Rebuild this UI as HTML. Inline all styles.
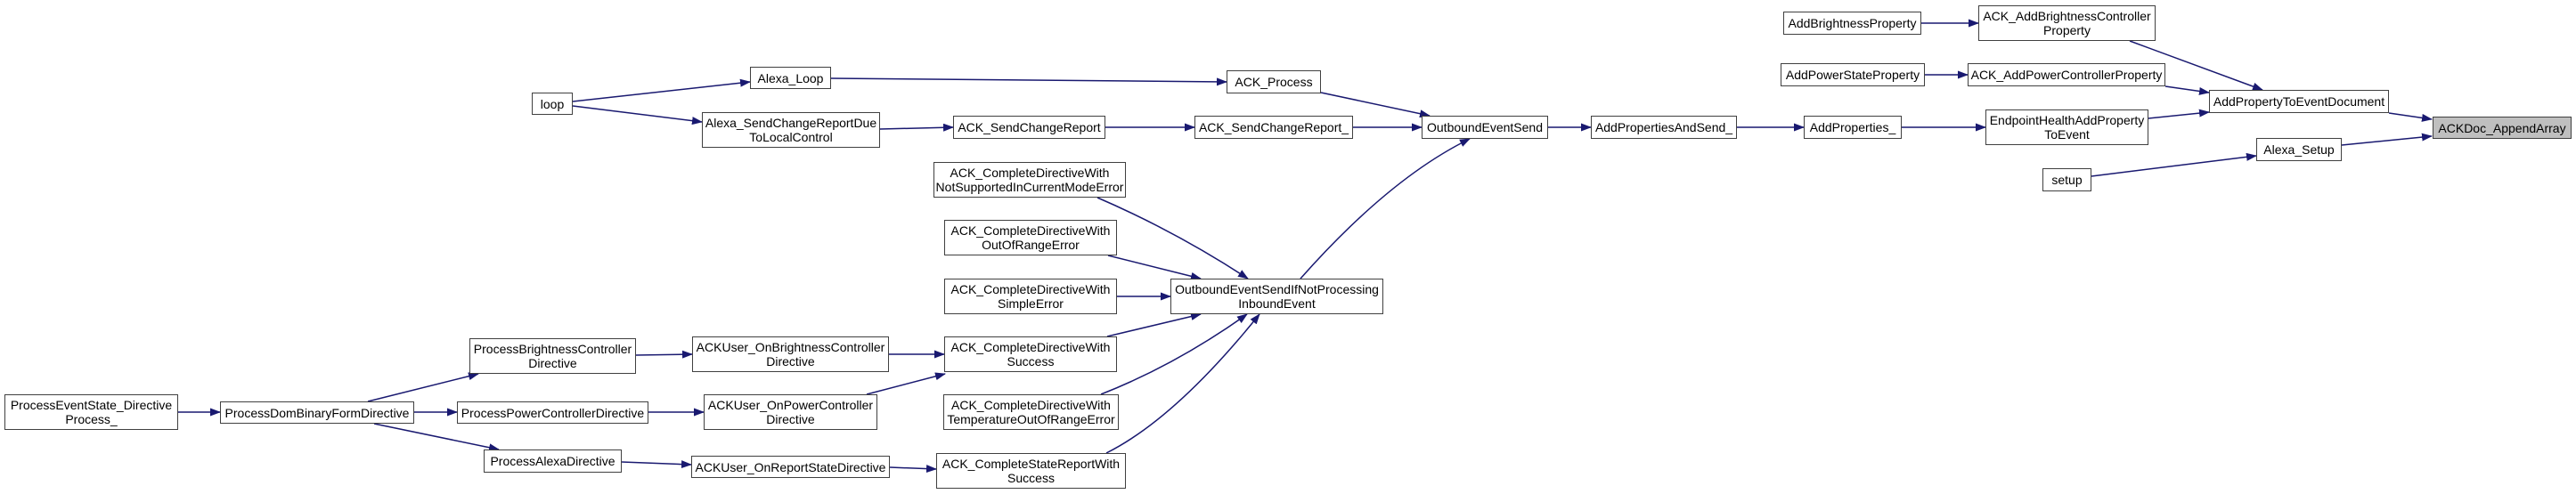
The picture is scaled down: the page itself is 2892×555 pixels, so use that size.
<!DOCTYPE html>
<html><head><meta charset="utf-8"><style>
body{margin:0;background:#fff;width:2892px;height:555px;position:relative;overflow:hidden;font-family:"Liberation Sans",Arial,sans-serif;}
.n{position:absolute;box-sizing:border-box;border:1.5px solid #404040;background:#fff;display:flex;align-items:center;justify-content:center;text-align:center;font-size:14px;line-height:16px;color:#000;white-space:nowrap;}
.g{background:#bfbfbf;}
svg{position:absolute;left:0;top:0;}
</style></head><body>
<svg width="2892" height="555" viewBox="0 0 2892 555">
<defs><marker id="a" markerWidth="12" markerHeight="9" refX="11" refY="4.5" orient="auto" markerUnits="userSpaceOnUse"><path d="M0,0 L12,4.5 L0,9 z" fill="#191970"/></marker></defs>
<g stroke="#191970" stroke-width="1.5" fill="none" marker-end="url(#a)">
<path d="M643,114 L842,92"/>
<path d="M643,119 L788,137"/>
<path d="M933,88 L1377,92"/>
<path d="M988,145 L1070,143"/>
<path d="M1241,143 L1341,143"/>
<path d="M1519,143 L1596,143"/>
<path d="M1483,104 L1605,130"/>
<path d="M1460,313 Q1560,200 1650,156"/>
<path d="M1738,143 L1786,143"/>
<path d="M1950,143 L2025,143"/>
<path d="M2135,143 L2229,143"/>
<path d="M2412,133 L2480,126"/>
<path d="M2157,26 L2221,26"/>
<path d="M2391,46 L2540,101"/>
<path d="M2161,84 L2209,84"/>
<path d="M2431,97 L2480,104"/>
<path d="M2682,127 L2730,134"/>
<path d="M2629,163 L2730,153"/>
<path d="M2348,198 L2533,175"/>
<path d="M1232,222 Q1320,260 1401,313"/>
<path d="M1244,287 L1348,313"/>
<path d="M1254,333 L1314,333"/>
<path d="M1243,378 L1348,353"/>
<path d="M1236,443 Q1320,410 1400,353"/>
<path d="M1242,509 Q1320,470 1414,353"/>
<path d="M998,398 L1060,398"/>
<path d="M973,443 L1061,420"/>
<path d="M999,525 L1051,527"/>
<path d="M200,463 L247,463"/>
<path d="M413,451 L537,420"/>
<path d="M465,463 L513,463"/>
<path d="M420,476 L560,505"/>
<path d="M714,399 L777,398"/>
<path d="M728,463 L790,463"/>
<path d="M698,519 L776,522"/>
</g></svg>
<div class="n" style="left:597px;top:104px;width:46px;height:25px">loop</div>
<div class="n" style="left:842px;top:75px;width:91px;height:25px">Alexa_Loop</div>
<div class="n" style="left:788px;top:126px;width:200px;height:40px">Alexa_SendChangeReportDue<br>ToLocalControl</div>
<div class="n" style="left:1377px;top:79px;width:106px;height:26px">ACK_Process</div>
<div class="n" style="left:1070px;top:130px;width:171px;height:26px">ACK_SendChangeReport</div>
<div class="n" style="left:1341px;top:130px;width:178px;height:26px">ACK_SendChangeReport_</div>
<div class="n" style="left:1596px;top:130px;width:142px;height:26px">OutboundEventSend</div>
<div class="n" style="left:1786px;top:130px;width:164px;height:26px">AddPropertiesAndSend_</div>
<div class="n" style="left:2025px;top:130px;width:110px;height:26px">AddProperties_</div>
<div class="n" style="left:2229px;top:123px;width:183px;height:40px">EndpointHealthAddProperty<br>ToEvent</div>
<div class="n" style="left:2002px;top:13px;width:155px;height:26px">AddBrightnessProperty</div>
<div class="n" style="left:2221px;top:6px;width:199px;height:40px">ACK_AddBrightnessController<br>Property</div>
<div class="n" style="left:1999px;top:71px;width:162px;height:26px">AddPowerStateProperty</div>
<div class="n" style="left:2209px;top:71px;width:222px;height:26px">ACK_AddPowerControllerProperty</div>
<div class="n" style="left:2480px;top:101px;width:202px;height:26px">AddPropertyToEventDocument</div>
<div class="n g" style="left:2731px;top:131px;width:156px;height:25px">ACKDoc_AppendArray</div>
<div class="n" style="left:2533px;top:155px;width:96px;height:26px">Alexa_Setup</div>
<div class="n" style="left:2293px;top:189px;width:55px;height:26px">setup</div>
<div class="n" style="left:1048px;top:182px;width:216px;height:40px">ACK_CompleteDirectiveWith<br>NotSupportedInCurrentModeError</div>
<div class="n" style="left:1060px;top:247px;width:194px;height:40px">ACK_CompleteDirectiveWith<br>OutOfRangeError</div>
<div class="n" style="left:1060px;top:313px;width:194px;height:40px">ACK_CompleteDirectiveWith<br>SimpleError</div>
<div class="n" style="left:1060px;top:378px;width:194px;height:40px">ACK_CompleteDirectiveWith<br>Success</div>
<div class="n" style="left:1059px;top:443px;width:197px;height:40px">ACK_CompleteDirectiveWith<br>TemperatureOutOfRangeError</div>
<div class="n" style="left:1051px;top:509px;width:213px;height:40px">ACK_CompleteStateReportWith<br>Success</div>
<div class="n" style="left:1314px;top:313px;width:239px;height:40px">OutboundEventSendIfNotProcessing<br>InboundEvent</div>
<div class="n" style="left:5px;top:443px;width:195px;height:40px">ProcessEventState_Directive<br>Process_</div>
<div class="n" style="left:247px;top:451px;width:218px;height:25px">ProcessDomBinaryFormDirective</div>
<div class="n" style="left:527px;top:380px;width:187px;height:40px">ProcessBrightnessController<br>Directive</div>
<div class="n" style="left:513px;top:451px;width:215px;height:25px">ProcessPowerControllerDirective</div>
<div class="n" style="left:543px;top:505px;width:155px;height:26px">ProcessAlexaDirective</div>
<div class="n" style="left:777px;top:378px;width:221px;height:40px">ACKUser_OnBrightnessController<br>Directive</div>
<div class="n" style="left:790px;top:443px;width:195px;height:40px">ACKUser_OnPowerController<br>Directive</div>
<div class="n" style="left:776px;top:512px;width:223px;height:25px">ACKUser_OnReportStateDirective</div>
</body></html>
